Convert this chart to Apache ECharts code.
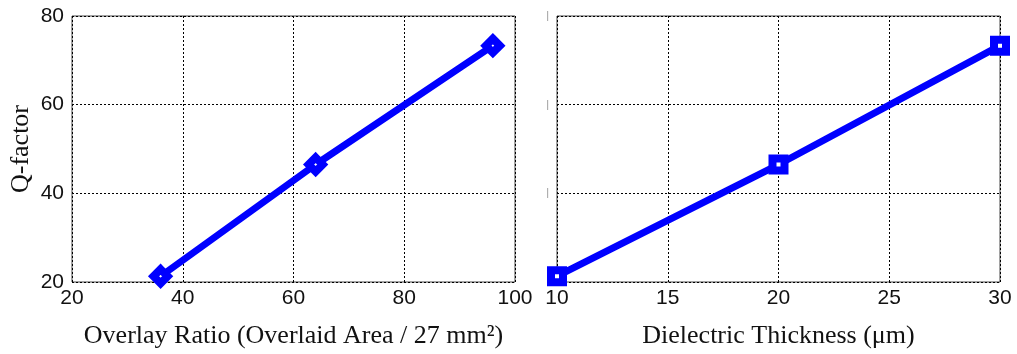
<!DOCTYPE html>
<html><head><meta charset="utf-8">
<script src="https://cdn.jsdelivr.net/npm/echarts@6/dist/echarts.min.js"></script>
<style>html,body{margin:0;padding:0;background:#fff}#c{width:1017px;height:354px}</style>
</head><body><div id="c"></div>
<script>
const overlayRatio = [36, 64, 96];
const thickness = [10, 20, 30];
const qOverlay = [21.3, 46.5, 73.3];
const qThickness = [21.3, 46.5, 73.3];
const xLabelLeft = 'Overlay Ratio (Overlaid Area / 27 mm²)';
const xLabelRight = 'Dielectric Thickness (μm)';
const yLabel = 'Q-factor';

const chart = echarts.init(document.getElementById('c'));
const tickFont = {fontFamily: 'Liberation Sans', fontSize: 21, color: '#111'};
const titleFont = {fontFamily: 'Liberation Serif', fontSize: 26, color: '#111'};
const split = {show: true, lineStyle: {color: '#000', type: [2, 2], width: 1}};
chart.setOption({
  animation: false,
  grid: [
    {left: 72, right: 502, top: 16, bottom: 71, show: true, borderColor: '#444', borderWidth: 1},
    {left: 557, right: 17, top: 16, bottom: 71, show: true, borderColor: '#444', borderWidth: 1}
  ],
  xAxis: [
    {gridIndex: 0, type: 'value', min: 20, max: 100, interval: 20,
     axisLine: {show: false}, axisTick: {show: false}, splitLine: split,
     axisLabel: Object.assign({margin: 6}, tickFont),
     name: xLabelLeft, nameLocation: 'middle', nameGap: 41, nameTextStyle: titleFont},
    {gridIndex: 1, type: 'value', min: 10, max: 30, interval: 5,
     axisLine: {show: false}, axisTick: {show: false}, splitLine: split,
     axisLabel: Object.assign({margin: 6}, tickFont),
     name: xLabelRight, nameLocation: 'middle', nameGap: 41, nameTextStyle: titleFont}
  ],
  yAxis: [
    {gridIndex: 0, type: 'value', min: 20, max: 80, interval: 20,
     axisLine: {show: false}, axisTick: {show: false}, splitLine: split,
     axisLabel: Object.assign({margin: 8}, tickFont),
     name: yLabel, nameLocation: 'middle', nameGap: 38, nameTextStyle: titleFont},
    {gridIndex: 1, type: 'value', min: 20, max: 80, interval: 20,
     axisLine: {show: false}, axisTick: {show: false}, splitLine: split,
     axisLabel: {margin: 8, fontSize: 11, color: '#999', fontFamily: 'Liberation Sans',
       formatter: v => v === 20 ? '' : '|'}}
  ],
  series: [
    {type: 'line', xAxisIndex: 0, yAxisIndex: 0,
     data: overlayRatio.map((x, i) => [x, qOverlay[i]]),
     lineStyle: {color: '#0000ff', width: 7}, symbol: 'diamond', symbolSize: 14,
     itemStyle: {color: '#fff', borderColor: '#0000ff', borderWidth: 8}},
    {type: 'line', xAxisIndex: 1, yAxisIndex: 1,
     data: thickness.map((x, i) => [x, qThickness[i]]),
     lineStyle: {color: '#0000ff', width: 7}, symbol: 'rect', symbolSize: 12,
     itemStyle: {color: '#fff', borderColor: '#0000ff', borderWidth: 8}}
  ]
});
</script></body></html>
